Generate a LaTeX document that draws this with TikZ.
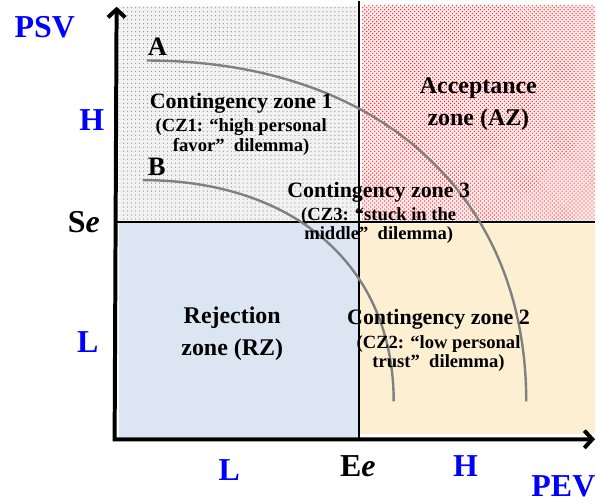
\documentclass[tikz,border=0pt]{standalone}
\usepackage{fontspec}
\setmainfont{Liberation Serif}
\usetikzlibrary{arrows.meta, patterns, positioning}
\definecolor{rzblue}{RGB}{220,230,242}
\definecolor{czyellow}{RGB}{253,240,210}
\definecolor{arcgray}{RGB}{128,128,128}
\definecolor{axisblue}{RGB}{0,0,255}

\begin{document}
\begin{tikzpicture}[
  x=0.75pt, y=-0.75pt,
  axis/.style={line width=3pt, line join=miter,
               {Straight Barb[length=6pt,width=13pt]}-{Straight Barb[length=6pt,width=13pt]}},
  divider/.style={line width=1.1pt},
  curve/.style={draw=arcgray, line width=1.8pt},
  zonetxt/.style={align=center, inner sep=0pt, anchor=base,
                  font={\fontsize{14}{14.5}\selectfont\bfseries}},
  bigtxt/.style={align=center, inner sep=0pt, anchor=base,
                 font={\fontsize{18}{24}\selectfont\bfseries}},
  ticklbl/.style={inner sep=0pt, anchor=base, text=axisblue,
                  font={\fontsize{24}{24}\selectfont\bfseries}},
  curvelbl/.style={inner sep=0pt, anchor=base west,
                   font={\fontsize{20}{20}\selectfont\bfseries}}
]
  \fill[white] (0,0) rectangle (597,503);

  % zones
  \fill[gray!10] (120,5) rectangle (360,222);
  \path[pattern=dots, pattern color=gray!80]            (120,5)   rectangle (360,222);
  \fill[red!8] (363,5) rectangle (597,220);
  \path[pattern=crosshatch dots, pattern color=red!90]  (363,5)   rectangle (597,220);
  \fill[rzblue]   (119,223) rectangle (359,438);
  \fill[czyellow] (361,224) rectangle (597,435);

  % thresholds
  \coordinate (eetop) at (360,0);
  \coordinate (eebot) at (360,440);
  \coordinate (seleft) at (117,222);
  \coordinate (seright) at (597,222);
  \draw[divider] (eetop) -- (eebot);
  \draw[divider] (seleft) -- (seright);

  % curves A and B
  \coordinate (astart) at (147,60);
  \coordinate (aend)   at (528,402);
  \coordinate (bstart) at (143,180);
  \coordinate (bend)   at (395,402);
  \draw[curve] (astart) .. controls (380,60) and (528,195) .. (aend);
  \draw[curve] (bstart) .. controls (296,180) and (395,267) .. (bend);
  \node[curvelbl] (lblA) at (148,55)  {A};
  \node[curvelbl] (lblB) at (148,175) {B};

  % zone texts (anchored at the last line)
  \node[zonetxt] (cz1) at (242,151) {{\fontsize{16.5}{14.5}\selectfont Contingency zone 1}\\[3.3pt]
        (CZ1: “high personal\\ favor”~~dilemma)};
  \node[zonetxt] (cz3) at (380,240) {{\fontsize{16.5}{14.5}\selectfont Contingency zone 3}\\[3.3pt]
        (CZ3: “stuck in the\\ middle”~~dilemma)};
  \node[zonetxt] (cz2) at (440,368) {{\fontsize{16.5}{14.5}\selectfont Contingency zone 2}\\[3.3pt]
        (CZ2: “low personal\\ trust”~~dilemma)};
  \node[bigtxt] (az) at (480,125) {Acceptance\\ zone (AZ)};
  \node[bigtxt] (rz) at (233,356) {Rejection\\ zone (RZ)};

  % axes
  \coordinate (origin) at (115,440);
  \coordinate (ytip)   at (117,6);
  \coordinate (xtip)   at (597,440);
  \draw[axis] (ytip) -- (origin) -- (xtip);

  \node[ticklbl] (psv) at (45,37)   {PSV};
  \node[ticklbl, anchor=base west] (pev) at (533,497) {PEV};
  \node[ticklbl] (yhigh) at (92,130)  {H};
  \node[ticklbl] (ylow)  at (88,353)  {L};
  \node[ticklbl] (xlow)  at (230,481) {L};
  \node[ticklbl] (xhigh) at (467,477) {H};
  \node[ticklbl, text=black] (se) at (84,233)  {S\textit{e}};
  \node[ticklbl, text=black] (ee) at (359,477) {E\textit{e}};
\end{tikzpicture}
\end{document}
